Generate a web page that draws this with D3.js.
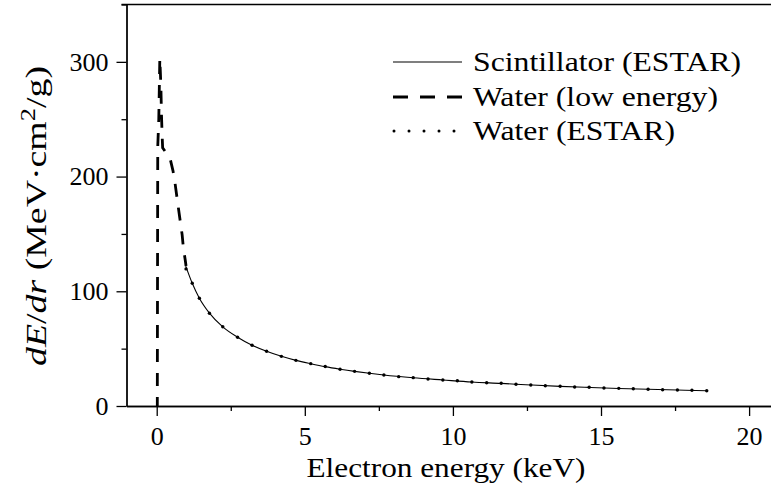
<!DOCTYPE html>
<html><head><meta charset="utf-8">
<script src="https://cdn.jsdelivr.net/npm/d3@7"></script>
<style>
body{margin:0;background:#fff}
svg{display:block}
text{font-family:"Liberation Serif","Times New Roman",serif;fill:#000}
</style>
</head><body>
<svg id="c" width="771" height="491"></svg>
<script>
// ---- data ----
const xTicks = [0, 5, 10, 15, 20];
const xMinorTicks = [2.5, 7.5, 12.5, 17.5];
const yTicks = [0, 100, 200, 300];
const yMinorTicks = [50, 150, 250, 350];
const legendLabels = ["Scintillator (ESTAR)", "Water (low energy)", "Water (ESTAR)"];
const xTitle = "Electron energy (keV)";

// Water (low energy) – dashed
const lowE = [0.02, 0.035, 0.07, 0.105, 0.14, 0.16, 0.18, 0.2, 0.45, 0.55, 0.62, 0.73, 0.8, 0.86, 0.9, 0.97, 0.99];
const lowV = [0, 226, 250, 303, 280, 255, 238, 225, 216, 205, 194, 173, 160, 149, 138, 126, 122];

// Scintillator (ESTAR) – solid
const scintE = [0.98, 1.2, 1.44, 1.78, 2.23, 2.73, 3.22, 3.71, 4.21, 4.7, 5.2, 5.69, 6.19, 6.68, 7.18, 7.67, 8.66, 9.66, 10.64, 11.63, 12.63, 13.62, 14.6, 15.6, 16.59, 17.58, 18.57];
const scintV = [122, 107, 94, 81, 69, 60, 53, 47.7, 43.3, 39.8, 36.9, 34.3, 32.1, 30.2, 28.5, 27, 24.6, 22.7, 20.9, 19.7, 18.3, 17.1, 16.2, 15.3, 14.6, 13.9, 13.3];

// Water (ESTAR) – dotted
const waterE = [0.99, 1.2, 1.44, 1.78, 2.23, 2.73, 3.22, 3.71, 4.21, 4.7, 5.2, 5.69, 6.19, 6.68, 7.18, 7.67, 8.17, 8.66, 9.16, 9.66, 10.15, 10.64, 11.14, 11.63, 12.13, 12.63, 13.12, 13.62, 14.11, 14.6, 15.1, 15.6, 16.09, 16.59, 17.08, 17.58, 18.07, 18.57];
const waterV = [119.5, 107, 93.9, 80.8, 69.1, 59.9, 52.9, 47.7, 43.3, 39.8, 36.9, 34.4, 32.0, 30.2, 28.5, 27.0, 25.6, 24.7, 23.5, 22.7, 22.0, 20.9, 20.3, 19.8, 18.9, 18.3, 17.7, 17.2, 16.6, 16.3, 15.7, 15.4, 15.1, 14.6, 14.2, 13.9, 13.7, 13.3];

// ---- drawing ----
const W = 771, H = 491, FS = 26, LFS = 27;
const svg = d3.select("#c");
const x = d3.scaleLinear().domain([-1.02, 20.8]).range([126.5, 772.8]);
const y = d3.scaleLinear().domain([0, 350]).range([406, 4.5]);

const zip = (a, b) => a.map((e, i) => ({e, v: b[i]}));
const line = d3.line().x(d => x(d.e)).y(d => y(d.v));

// top frame line
svg.append("line").attr("x1", x(-1.02) - 5).attr("x2", W).attr("y1", y(350)).attr("y2", y(350))
  .attr("stroke", "#000").attr("stroke-width", 1.3);

// axes
const styleAxis = g => {
  g.selectAll("path.domain").attr("stroke", "#000").attr("stroke-width", 1.3);
  g.selectAll(".tick line").attr("stroke", "#000").attr("stroke-width", 1.3);
  g.selectAll("text").attr("font-size", FS).attr("font-family", '"Liberation Serif",serif').attr("fill", "#000");
};
svg.append("g").attr("transform", `translate(0,${y(0)})`)
  .call(d3.axisBottom(x).tickValues(xMinorTicks).tickSize(5).tickSizeOuter(0).tickFormat(""))
  .call(styleAxis);
svg.append("g").attr("transform", `translate(0,${y(0)})`)
  .call(d3.axisBottom(x).tickValues(xTicks).tickSize(10).tickSizeOuter(0).tickPadding(11).tickFormat(d3.format("d")))
  .call(styleAxis);
svg.append("g").attr("transform", `translate(${x(-1.02)},0)`)
  .call(d3.axisLeft(y).tickValues(yMinorTicks).tickSize(5).tickSizeOuter(0).tickFormat(""))
  .call(styleAxis);
svg.append("g").attr("transform", `translate(${x(-1.02)},0)`)
  .call(d3.axisLeft(y).tickValues(yTicks).tickSize(10).tickSizeOuter(0).tickPadding(8).tickFormat(d3.format("d")))
  .call(styleAxis);

// series
svg.append("path").datum(zip(scintE, scintV)).attr("d", line.curve(d3.curveMonotoneX))
  .attr("fill", "none").attr("stroke", "#000").attr("stroke-width", 1.1);
svg.append("path").datum(zip(lowE, lowV)).attr("d", d3.line().x(d => x(d.e)).y(d => y(d.v)))
  .attr("fill", "none").attr("stroke", "#000").attr("stroke-width", 2.8)
  .attr("stroke-dasharray", "13,11").attr("stroke-dashoffset", 4);
svg.append("g").selectAll("circle").data(zip(waterE, waterV)).join("circle")
  .attr("cx", d => x(d.e)).attr("cy", d => y(d.v)).attr("r", 1.7).attr("fill", "#000");

// axis titles
svg.append("text").attr("x", 446).attr("y", 477).attr("text-anchor", "middle")
  .attr("font-size", LFS).attr("textLength", 279).attr("lengthAdjust", "spacingAndGlyphs").text(xTitle);

const YFS = 29;
const yt = svg.append("text").attr("font-size", YFS).attr("x", 0).attr("y", 0);
yt.append("tspan").attr("font-style", "italic").text("dE");
yt.append("tspan").text("/");
yt.append("tspan").attr("font-style", "italic").text("dr");
yt.append("tspan").text(" (MeV·cm");
yt.append("tspan").attr("font-size", YFS * 0.7).attr("dy", -11).text("2");
yt.append("tspan").attr("dy", 11).text("/g)");
{
  const target = 300;
  yt.attr("textLength", target).attr("lengthAdjust", "spacingAndGlyphs");
  yt.attr("transform", `translate(46,${216 + target / 2}) rotate(-90)`);
}

// legend
const lg = svg.append("g");
const rowY = [62, 97, 131];
const textW = [268, 245, 202];
lg.append("line").attr("x1", 393).attr("x2", 462).attr("y1", rowY[0]).attr("y2", rowY[0])
  .attr("stroke", "#000").attr("stroke-width", 1.1);
lg.append("line").attr("x1", 393).attr("x2", 462).attr("y1", rowY[1]).attr("y2", rowY[1])
  .attr("stroke", "#000").attr("stroke-width", 2.8).attr("stroke-dasharray", "15,12");
lg.append("line").attr("x1", 394).attr("x2", 462).attr("y1", rowY[2]).attr("y2", rowY[2])
  .attr("stroke", "#000").attr("stroke-width", 3).attr("stroke-linecap", "round").attr("stroke-dasharray", "0,15");
legendLabels.forEach((t, i) => {
  lg.append("text").attr("x", 473).attr("y", rowY[i] + 9).attr("font-size", LFS)
    .attr("textLength", textW[i]).attr("lengthAdjust", "spacingAndGlyphs").text(t);
});
</script>
</body></html>
